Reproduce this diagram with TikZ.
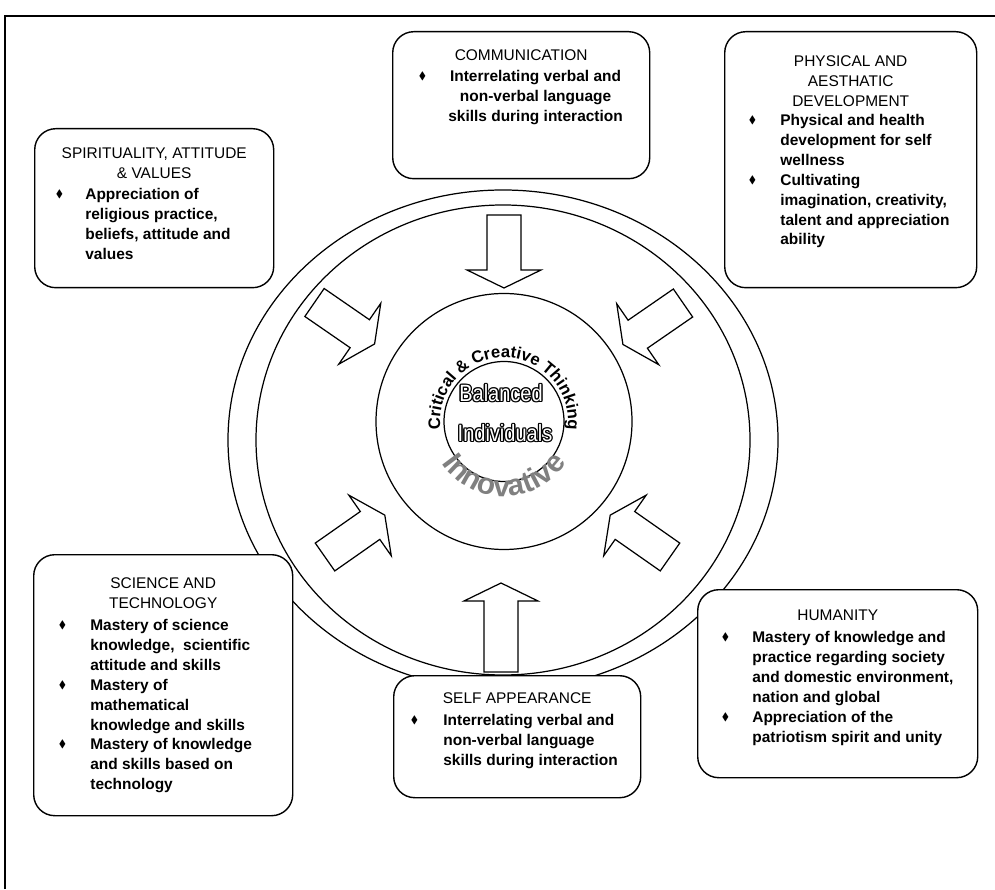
\documentclass[tikz,border=0pt]{standalone}
\usepackage{fontspec}
\setmainfont{Liberation Sans}
\usepackage{amsmath, amssymb}
\usepackage{tikz}
\usetikzlibrary{positioning, calc, decorations.text}

\newcommand{\bul}{\raisebox{0.25ex}{\scalebox{0.7}{$\blacklozenge$}}}
\newcommand{\narrowword}[1]{\scalebox{0.85}[1]{#1}}
\newcommand{\blockarrow}[3]{%
  \draw[arrowshape, shift={(#1)}, rotate=#2] (0,-0.34) -- (#3,-0.34) -- (#3,-0.74) -- (#3+0.36,0) -- (#3,0.74) -- (#3,0.34) -- (0,0.34) -- cycle;}

\tikzset{
  topicbox/.style={draw, line width=0.8pt, fill=white, rounded corners=12pt, inner sep=0pt, anchor=north west},
  headtext/.style={font=\fontsize{8.8}{11.3}\selectfont, align=center, inner sep=0pt},
  listtext/.style={font=\fontsize{8.8}{11.3}\selectfont\bfseries, inner sep=0pt, anchor=north west},
  ringline/.style={line width=0.7pt},
  arrowshape/.style={draw, fill=white, line width=0.7pt, line join=miter},
  bigword/.style={font=\fontsize{13.4}{14}\selectfont, inner sep=0pt},
}

\begin{document}
\begin{tikzpicture}
  \useasboundingbox (0,0) rectangle (19.9,17.78);
  % frame
  \draw[line width=1pt] (0.1,0) -- (0.1,17.46) -- (19.9,17.46);

  % rings
  \coordinate (ring) at (10.06,8.98);
  \coordinate (ctr) at (10.08,9.35);
  \draw[ringline] (ring) ellipse [x radius=5.5, y radius=5.0];
  \draw[ringline] (ring) ellipse [x radius=4.94, y radius=4.7];
  \draw[ringline] (ctr) circle [radius=2.56];
  \draw[ringline] (ctr) circle [radius=1.2];

  % arrows towards the centre
  \blockarrow{10.08,13.48}{-90}{1.1}
  \blockarrow{10.02,4.34}{90}{1.42}
  \blockarrow{6.29,11.73}{-34.6}{1.1}
  \blockarrow{13.66,11.72}{-145.4}{1.1}
  \blockarrow{6.5,6.64}{35}{1.1}
  \blockarrow{13.4,6.64}{145}{1.1}

  % centre words
  \coordinate (bal) at (10.02,9.92);
  \coordinate (ind) at (10.1,9.12);
  \foreach \ang in {0,45,...,315} {
    \node[bigword, text=black] (balo\ang) at ($(bal)+(\ang:0.75pt)$) {\narrowword{Balanced}};
    \node[bigword, text=black] (indo\ang) at ($(ind)+(\ang:0.75pt)$) {\narrowword{Individuals}};
  }
  \node[bigword, text=white] (balanced) at (bal) {\narrowword{Balanced}};
  \node[bigword, text=white] (individuals) at (ind) {\narrowword{Individuals}};
  \path[decorate, decoration={text along path, text align=center,
      text={|\fontsize{9.5}{10}\selectfont\bfseries|Critical {\&} Creative Thinking}}]
    ($(ctr)+(200:1.28)$) arc[start angle=200, end angle=-20, radius=1.28];
  \path[decorate, decoration={text along path, text align=center, text color=gray,
      text={|\fontsize{17}{18}\selectfont\bfseries|Innovative}}]
    ($(ctr)+(190:1.5)$) arc[start angle=190, end angle=350, radius=1.5];

  % spirituality
  \node[topicbox, minimum width=4.78cm, minimum height=3.18cm] (spirit) at (0.68,15.22) {};
  \node[headtext, below=0.39cm of spirit.north] (spirithead) {SPIRITUALITY, ATTITUDE\\\& VALUES};
  \node[listtext] (spiritlist) at ($(spirit.north west)+(0.43,-1.15)$) {\begin{tabular}{@{}p{0.59cm}@{}l@{}}
    \bul & Appreciation of\\ & religious practice,\\ & beliefs, attitude and\\ & values
  \end{tabular}};

  % communication
  \node[topicbox, minimum width=5.14cm, minimum height=2.94cm] (comm) at (7.84,17.16) {};
  \node[headtext, below=0.37cm of comm.north] (commhead) {COMMUNICATION};
  \node[listtext] (commlist) at ($(comm.north west)+(0.53,-0.73)$) {\begin{tabular}{@{}p{0.59cm}@{}c@{}}
    \bul & Interrelating verbal and\\ & non-verbal language\\ & skills during interaction
  \end{tabular}};

  % physical and aesthatic development
  \node[topicbox, minimum width=5.04cm, minimum height=5.12cm] (phys) at (14.48,17.16) {};
  \node[headtext, below=0.49cm of phys.north] (physhead) {PHYSICAL AND\\AESTHATIC\\DEVELOPMENT};
  \node[listtext] (physlist) at ($(phys.north west)+(0.49,-1.61)$) {\begin{tabular}{@{}p{0.63cm}@{}l@{}}
    \bul & Physical and health\\ & development for self\\ & wellness\\
    \bul & Cultivating\\ & imagination, creativity,\\ & talent and appreciation\\ & ability
  \end{tabular}};

  % science and technology
  \node[topicbox, minimum width=5.18cm, minimum height=5.22cm] (sci) at (0.66,6.7) {};
  \node[headtext, below=0.47cm of sci.north] (scihead) {SCIENCE AND\\TECHNOLOGY};
  \node[listtext] (scilist) at ($(sci.north west)+(0.51,-1.25)$) {\begin{tabular}{@{}p{0.63cm}@{}l@{}}
    \bul & Mastery of science\\ & knowledge,~ scientific\\ & attitude and skills\\
    \bul & Mastery of\\ & mathematical\\ & knowledge and skills\\
    \bul & Mastery of knowledge\\ & and skills based on\\ & technology
  \end{tabular}};

  % self appearance
  \node[topicbox, minimum width=4.94cm, minimum height=2.44cm] (self) at (7.86,4.28) {};
  \node[headtext, below=0.35cm of self.north] (selfhead) {SELF APPEARANCE};
  \node[listtext] (selflist) at ($(self.north west)+(0.35,-0.73)$) {\begin{tabular}{@{}p{0.65cm}@{}l@{}}
    \bul & Interrelating verbal and\\ & non-verbal language\\ & skills during interaction
  \end{tabular}};

  % humanity
  \node[topicbox, minimum width=5.6cm, minimum height=3.76cm] (human) at (13.94,6.0) {};
  \node[headtext, below=0.41cm of human.north] (humanhead) {HUMANITY};
  \node[listtext] (humanlist) at ($(human.north west)+(0.49,-0.79)$) {\begin{tabular}{@{}p{0.61cm}@{}l@{}}
    \bul & Mastery of knowledge and\\ & practice regarding society\\ & and domestic environment,\\ & nation and global\\
    \bul & Appreciation of the\\ & patriotism spirit and unity
  \end{tabular}};
\end{tikzpicture}
\end{document}
